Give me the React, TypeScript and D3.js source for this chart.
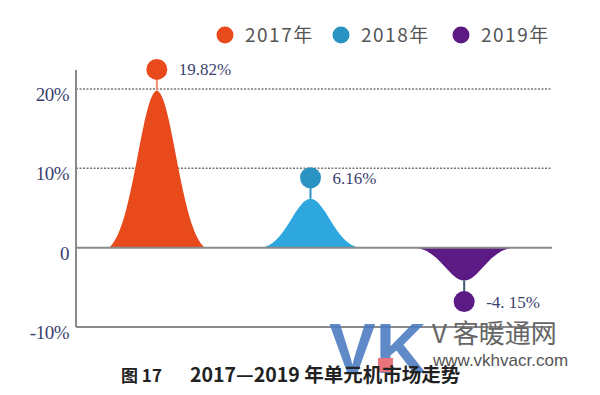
import React from "react";
import { scaleBand, scaleLinear, area, range, curveBasis } from "d3";

const years = ["2017年", "2018年", "2019年"];
const growth = [19.82, 6.16, -4.15];
const valueLabels = ["19.82%", "6.16%", "-4. 15%"];
const yTicks = [20, 10, 0, -10];
const tickLabels = ["20%", "10%", "0", "-10%"];
const fillColors = ["#e84a1c", "#2ea6de", "#5b1a84"];
const dotColors = ["#e84a1c", "#2a93c4", "#5b1a84"];
const stemColors = ["#f08c72", "#2a93c4", "#3d5a6c"];

const W = 600;
const H = 395;
const left = 76;
const right = 552;

export default function App() {
  const x = scaleBand().domain(years).range([80, 541]);
  const y = scaleLinear().domain([-10, 20]).range([327, 89]);
  const half = x.bandwidth() * 0.31;
  const sigma = 0.4;
  const edge = Math.exp(-1 / (2 * sigma * sigma));
  const bell = (t: number) => (Math.exp(-(t * t) / (2 * sigma * sigma)) - edge) / (1 - edge);
  const ts = range(-1, 1.0001, 0.05);

  return (
    <svg width={W} height={H} style={{ position: "absolute", left: 0, top: 0, background: "#fff" }}>
      {/* legend */}
      {years.map((yr, i) => {
        const lx = [225, 341, 461][i];
        return (
          <g key={yr}>
            <circle cx={lx} cy={35} r={8.5} fill={dotColors[i]} />
            <text x={lx + 20} y={41.5} fontFamily="'Noto Sans CJK SC', 'Noto Sans', sans-serif" fontSize={19} fill="#555" letterSpacing={1.5}>
              {yr}
            </text>
          </g>
        );
      })}

      {/* grid */}
      {yTicks.map((t, i) => (
        <g key={t}>
          {t > 0 && (
            <line x1={left} x2={right} y1={y(t)} y2={y(t)} stroke="#777" strokeWidth={1.5} strokeDasharray="2,1.5" />
          )}
          <text x={69} y={y(t) + 12} textAnchor="end" fontFamily="'Liberation Serif', serif" fontSize={19} fill="#3b3f6e" letterSpacing={-0.5}>
            {tickLabels[i]}
          </text>
        </g>
      ))}

      {/* shapes */}
      {years.map((yr, i) => {
        const cx = (x(yr) ?? 0) + x.bandwidth() / 2;
        const v = growth[i];
        const a = area<number>()
          .x((t) => cx + t * half)
          .y0(y(0))
          .y1((t) => y(v * bell(t)))
          .curve(curveBasis);
        const sign = v >= 0 ? -1 : 1;
        const dotY = y(v) + sign * 21;
        return (
          <g key={yr}>
            <path d={a(ts) ?? ""} fill={fillColors[i]} />
            <line x1={cx} x2={cx} y1={y(v)} y2={dotY} stroke={stemColors[i]} strokeWidth={2} />
            <circle cx={cx} cy={dotY} r={10.5} fill={dotColors[i]} />
            <text x={cx + 22} y={dotY + 6} fontFamily="'Liberation Serif', serif" fontSize={17} fill="#3b3f6e">
              {valueLabels[i]}
            </text>
          </g>
        );
      })}

      {/* axes */}
      <line x1={left} x2={right} y1={y(0)} y2={y(0)} stroke="#8a8a8a" strokeWidth={2} />
      <line x1={left} x2={right} y1={y(-10)} y2={y(-10)} stroke="#8a8a8a" strokeWidth={2} />
      <line x1={left} x2={left} y1={70} y2={y(-10)} stroke="#8a8a8a" strokeWidth={2} />

      {/* watermark */}
      <g opacity={0.88}>
        <text x={329} y={373} fontFamily="'Liberation Sans', Arial, sans-serif" fontSize={70} fontWeight="bold" fill="#4a7bc0">
          VK
        </text>
        <rect x={378} y={358} width={15} height={14} fill="#e8606a" />
      </g>
      <text x={432} y={343} fontFamily="'Noto Sans CJK SC', sans-serif" fontSize={26} fill="#666">
        V 客暖通网
      </text>
      <text x={433} y={366} fontFamily="'Liberation Sans', Arial, sans-serif" fontSize={17} fill="#555">
        www.vkhvacr.com
      </text>

      {/* caption */}
      <text x={121} y={382} fontFamily="'Noto Sans CJK SC', sans-serif" fontSize={17} fontWeight="bold" fill="#222">
        图 17
      </text>
      <text x={190} y={382} fontFamily="'Noto Sans CJK SC', sans-serif" fontSize={19.5} fontWeight="bold" fill="#222">
        2017—2019 年单元机市场走势
      </text>
    </svg>
  );
}
